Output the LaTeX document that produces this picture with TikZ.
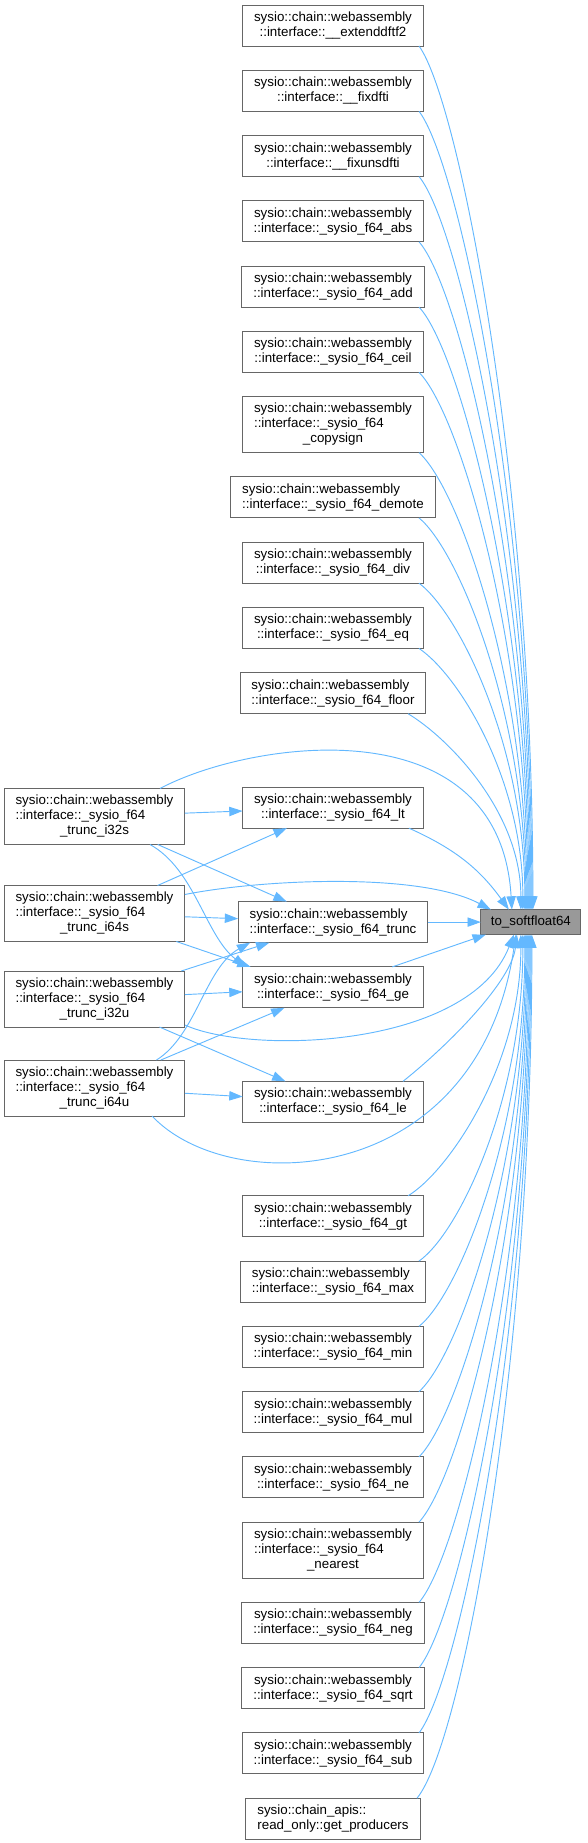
\documentclass[tikz,border=0pt]{standalone}
\usepackage{fontspec}
\setmainfont{Liberation Sans}
\usepackage{tikz}
\usetikzlibrary{arrows.meta,positioning,calc}
\definecolor{dgedge}{HTML}{63B8FF}
\definecolor{dgborder}{HTML}{666666}
\definecolor{dgroot}{HTML}{999999}
\newcommand{\wasmns}{sysio::chain::webassembly}
\newcommand{\wasmf}{::interface::\_sysio\_f64}
\newcommand{\fnthree}[3]{\begin{tabular}{@{}l@{}}#1\\#2\\\multicolumn{1}{@{}c@{}}{#3}\end{tabular}}

\begin{document}
\begin{tikzpicture}[x=0.75pt, y=-0.75pt,
  node distance=18.2pt,
  fn/.style={draw=dgborder, fill=white, line width=0.75pt, outer sep=0pt,
             inner xsep=8.6pt, inner ysep=2pt, minimum height=30.75pt,
             align=center, font=\fontsize{10}{11.25}\selectfont},
  fn3/.style={fn, minimum height=42pt},
  root/.style={fn, fill=dgroot, inner xsep=7.5pt, minimum height=18.75pt},
  arr/.style={-{Triangle[length=10pt,width=7pt]}, draw=dgedge, line width=0.7pt}]

\useasboundingbox (0,0) rectangle (587,1843);

\node[fn] (ext) at (333,25.5) {\wasmns\\::interface::\_\_extenddftf2};
\node[fn, below=of ext] (fixdfti) {\wasmns\\::interface::\_\_fixdfti};
\node[fn, below=of fixdfti] (fixuns) {\wasmns\\::interface::\_\_fixunsdfti};
\node[fn, below=of fixuns] (abs) {\wasmns\\\wasmf\_abs};
\node[fn, below=of abs] (add) {\wasmns\\\wasmf\_add};
\node[fn, below=of add] (ceil) {\wasmns\\\wasmf\_ceil};
\node[fn3, below=of ceil] (copysign) {\fnthree{\wasmns}{\wasmf}{\_copysign}};
\node[fn, align=left, below=of copysign] (demote) {\wasmns\\\wasmf\_demote};
\node[fn, below=of demote] (div) {\wasmns\\\wasmf\_div};
\node[fn, below=of div] (eq) {\wasmns\\\wasmf\_eq};
\node[fn, align=left, below=of eq] (floor) {\wasmns\\\wasmf\_floor};
\node[fn, below=55.1pt of floor] (lt) {\wasmns\\\wasmf\_lt};
\node[fn, align=left, below=55.1pt of lt] (trunc) {\wasmns\\\wasmf\_trunc};
\node[fn, below=of trunc] (ge) {\wasmns\\\wasmf\_ge};
\node[fn, below=55.1pt of ge] (le) {\wasmns\\\wasmf\_le};
\node[fn, below=55.1pt of le] (gt) {\wasmns\\\wasmf\_gt};
\node[fn, align=left, below=of gt] (max) {\wasmns\\\wasmf\_max};
\node[fn, below=of max] (min) {\wasmns\\\wasmf\_min};
\node[fn, below=of min] (mul) {\wasmns\\\wasmf\_mul};
\node[fn, below=of mul] (ne) {\wasmns\\\wasmf\_ne};
\node[fn3, below=of ne] (nearest) {\fnthree{\wasmns}{\wasmf}{\_nearest}};
\node[fn, below=of nearest] (neg) {\wasmns\\\wasmf\_neg};
\node[fn, below=of neg] (sqrt) {\wasmns\\\wasmf\_sqrt};
\node[fn, below=of sqrt] (sub) {\wasmns\\\wasmf\_sub};
\node[fn, align=left, below=of sub] (getprod) {sysio::chain\_apis::\\read\_only::get\_producers};

\node[root, right=39.75pt of trunc] (tsf) {to\_softfloat64};

\node[fn3] (i32s) at (94.5,816.5) {\fnthree{\wasmns}{\wasmf}{\_trunc\_i32s}};
\node[fn3] (i64s) at (94.5,913.5) {\fnthree{\wasmns}{\wasmf}{\_trunc\_i64s}};
\node[fn3] (i32u) at (94.5,999) {\fnthree{\wasmns}{\wasmf}{\_trunc\_i32u}};
\node[fn3] (i64u) at (94.5,1088) {\fnthree{\wasmns}{\wasmf}{\_trunc\_i64u}};

\draw[arr] ($(ext.south)+(86,0)$) .. controls +(40,55) and +(0,-430) .. ($(tsf.north)+(2,0)$);
\draw[arr] ($(fixdfti.south)+(86,0)$) .. controls +(40,52) and +(0,-400) .. ($(tsf.north)+(1,0)$);
\draw[arr] ($(fixuns.south)+(86,0)$) .. controls +(40,48) and +(0,-366) .. (tsf.north);
\draw[arr] ($(abs.south)+(86,0)$) .. controls +(40,45) and +(0,-333) .. ($(tsf.north)+(-1,0)$);
\draw[arr] ($(add.south)+(86,0)$) .. controls +(40,42) and +(0,-300) .. ($(tsf.north)+(-2,0)$);
\draw[arr] ($(ceil.south)+(86,0)$) .. controls +(40,40) and +(0,-268) .. ($(tsf.north)+(-3,0)$);
\draw[arr] ($(copysign.south)+(86,0)$) .. controls +(40,36) and +(0,-228) .. ($(tsf.north)+(-4,0)$);
\draw[arr] ($(demote.south)+(86,0)$) .. controls +(40,33) and +(0,-195) .. ($(tsf.north)+(-5,0)$);
\draw[arr] ($(div.south)+(86,0)$) .. controls +(40,30) and +(0,-163) .. ($(tsf.north)+(-6,0)$);
\draw[arr] ($(eq.south)+(86,0)$) .. controls +(40,27) and +(0,-130) .. ($(tsf.north)+(-8,0)$);
\draw[arr] ($(floor.south)+(75,0)$) .. controls +(40,24) and +(0,-98) .. ($(tsf.north)+(-10,0)$);
\draw[arr] (lt) to[bend left=15] ($(tsf.north)+(-22,0)$);
\draw[arr] (trunc) -- (tsf);
\draw[arr] (ge) -- ($(tsf.south west)+(5,0)$);
\draw[arr] ($(le.north)+(70,0)$) .. controls +(50,-40) and +(-5,45) .. ($(tsf.south)+(-14,0)$);
\draw[arr] ($(gt.north)+(75,0)$) .. controls +(40,-24) and +(0,131) .. ($(tsf.south)+(-10,0)$);
\draw[arr] ($(max.north)+(86,0)$) .. controls +(40,-28) and +(0,164) .. ($(tsf.south)+(-8,0)$);
\draw[arr] ($(min.north)+(86,0)$) .. controls +(40,-32) and +(0,196) .. ($(tsf.south)+(-6,0)$);
\draw[arr] ($(mul.north)+(86,0)$) .. controls +(40,-36) and +(0,229) .. ($(tsf.south)+(-5,0)$);
\draw[arr] ($(ne.north)+(86,0)$) .. controls +(40,-40) and +(0,262) .. ($(tsf.south)+(-4,0)$);
\draw[arr] ($(nearest.north)+(86,0)$) .. controls +(40,-43) and +(0,294) .. ($(tsf.south)+(-3,0)$);
\draw[arr] ($(neg.north)+(86,0)$) .. controls +(40,-46) and +(0,335) .. ($(tsf.south)+(-2,0)$);
\draw[arr] ($(sqrt.north)+(86,0)$) .. controls +(40,-49) and +(0,367) .. ($(tsf.south)+(-1,0)$);
\draw[arr] ($(sub.north)+(86,0)$) .. controls +(40,-52) and +(0,400) .. (tsf.south);
\draw[arr] ($(getprod.north)+(84,0)$) .. controls +(45,-55) and +(0,432) .. ($(tsf.south)+(1,0)$);

\draw[arr] ($(i32s.north)+(65.5,0)$) .. controls +(90,-48) and +(-12,-206) .. ($(tsf.north)+(-19,0)$);
\draw[arr] ($(i64s.north east)+(0,9)$) .. controls +(75,-15) and +(-72,-38) .. ($(tsf.north west)+(10,0)$);
\draw[arr] ($(i32u.south east)+(0,-2)$) .. controls +(66,30) and +(-45,114) .. ($(tsf.south)+(-17,0)$);
\draw[arr] ($(i64u.south)+(57.5,0)$) .. controls +(78,83) and +(-37,254) .. ($(tsf.south)+(-15,0)$);

\draw[arr] (i32s) -- (lt);
\draw[arr] (i32s) -- (trunc);
\draw[arr] ($(i32s.south)+(55.5,0)$) .. controls +(45,25) and +(-40,-31) .. ($(ge.north west)+(3,0)$);
\draw[arr] (i64s) -- (lt);
\draw[arr] (i64s) -- (trunc);
\draw[arr] (i64s) -- ($(ge.north west)+(8,0)$);
\draw[arr] (i32u) -- (trunc);
\draw[arr] (i32u) -- (ge);
\draw[arr] (i32u) -- (le);
\draw[arr] ($(i64u.north)+(62,0)$) .. controls +(40,-25) and +(-45,25) .. ($(trunc.south west)+(12,0)$);
\draw[arr] (i64u) -- (ge);
\draw[arr] (i64u) -- (le);
\end{tikzpicture}
\end{document}
